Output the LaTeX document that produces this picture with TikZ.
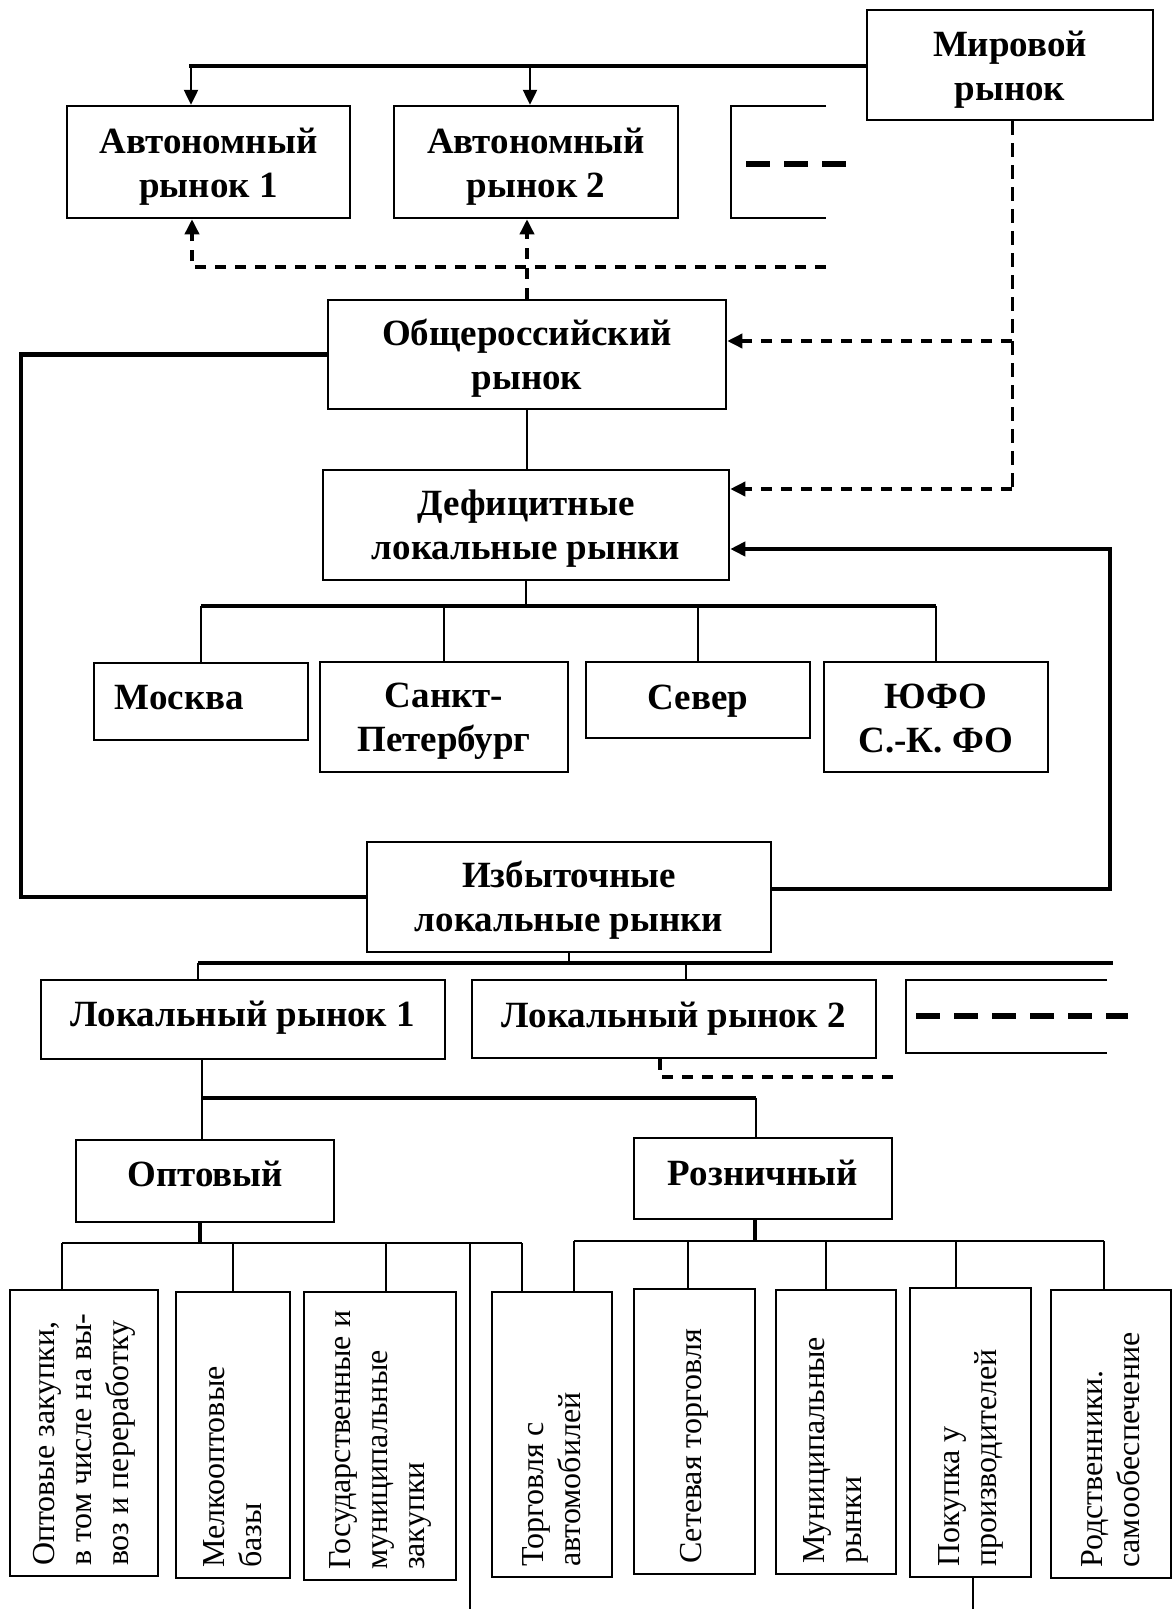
\documentclass[tikz,border=0pt]{standalone}
\usepackage{fontspec}
\setmainfont{Liberation Serif}
\usetikzlibrary{arrows.meta}
\begin{document}
\begin{tikzpicture}[x=1pt,y=-1pt,
  frame/.style={draw, line width=2.5pt, inner sep=0pt},
  lbl/.style={inner sep=0pt, align=center, font=\fontsize{37}{44}\selectfont\bfseries},
  vbox/.style={draw, line width=2.2pt, inner sep=0pt},
  vtxt/.style={rotate=90, anchor=west, align=left, inner sep=0pt, font=\fontsize{32}{37}\selectfont},
  ln/.style={line width=2.5pt},
  thk/.style={line width=4.5pt},
  thn/.style={line width=2pt},
  dsh/.style={line width=3.5pt, dash pattern=on 11pt off 9pt},
  dshv/.style={line width=3pt, dash pattern=on 14pt off 8pt},
  dots/.style={line width=6pt, dash pattern=on 24pt off 14pt},
  arr/.style={-{Triangle[length=15pt,width=14pt]}},
]
\useasboundingbox (0,0) rectangle (1174,1609);

% boxes
\node[frame, minimum width=286pt, minimum height=110pt] (MW) at (1010,65) {};
\node[frame, minimum width=283pt, minimum height=112pt] (A1) at (208.5,162) {};
\node[frame, minimum width=284pt, minimum height=112pt] (A2) at (536,162) {};
\draw[ln] (826,106) -- (731,106) -- (731,218) -- (826,218);
\draw[dots] (746,164) -- (854,164);

\node[frame, minimum width=398pt, minimum height=109pt] (OR) at (527,354.5) {};
\node[frame, minimum width=406pt, minimum height=110pt] (DF) at (526,525) {};

\node[frame, minimum width=214pt, minimum height=77pt] (MOS) at (201,701.5) {};
\node[frame, minimum width=248pt, minimum height=110pt] (SPB) at (444,717) {};
\node[frame, minimum width=224pt, minimum height=76pt] (SEV) at (698,700) {};
\node[frame, minimum width=224pt, minimum height=110pt] (YUF) at (936,717) {};

\node[frame, minimum width=404pt, minimum height=110pt] (IZ) at (569,897) {};

\node[frame, minimum width=404pt, minimum height=79pt] (L1) at (243,1019.5) {};
\node[frame, minimum width=404pt, minimum height=78pt] (L2) at (674,1019) {};
\draw[ln] (1107,980) -- (906,980) -- (906,1053) -- (1107,1053);
\draw[dots] (916,1016) -- (1128,1016);

\node[frame, minimum width=258pt, minimum height=82pt] (OPT) at (205,1181) {};
\node[frame, minimum width=258pt, minimum height=81pt] (ROZ) at (763,1178.5) {};

% labels
\node[lbl] (MWt) at ([yshift=-4.6pt]MW.center) {Мировой\\рынок};
\node[lbl] (A1t) at ([yshift=-5pt]A1.center) {Автономный\\рынок 1};
\node[lbl] (A2t) at ([yshift=-5pt]A2.center) {Автономный\\рынок 2};
\node[lbl] (ORt) at ([yshift=-4pt]OR.center) {Общероссийский\\рынок};
\node[lbl] (DFt) at ([yshift=-4pt]DF.center) {Дефицитные\\локальные рынки};
\node[lbl, anchor=west] (MOSt) at ([xshift=22pt,yshift=4pt]MOS.west) {Москва};
\node[lbl] (SPBt) at ([yshift=-4.6pt]SPB.center) {Санкт-\\Петербург};
\node[lbl] (SEVt) at ([yshift=-1pt]SEV.center) {Север};
\node[lbl] (YUFt) at ([yshift=-1.5pt]YUF.center) {ЮФО\\С.-К. ФО};
\node[lbl] (IZt) at ([yshift=-3.6pt]IZ.center) {Избыточные\\локальные рынки};
\node[lbl] (L1t) at ([yshift=2pt]L1.center) {Локальный рынок 1};
\node[lbl] (L2t) at (L2.center) {Локальный рынок 2};
\node[lbl] (OPTt) at ([yshift=7pt]OPT.center) {Оптовый};
\node[lbl] (ROZt) at ([yshift=6pt]ROZ.center) {Розничный};

% bottom boxes
\node[vbox, minimum width=148pt, minimum height=286pt] (B1) at (84,1433) {};
\node[vbox, minimum width=114pt, minimum height=286pt] (B2) at (233,1435) {};
\node[vbox, minimum width=152pt, minimum height=288pt] (B3) at (380,1436) {};
\node[vbox, minimum width=120pt, minimum height=285pt] (B4) at (552,1434.5) {};
\node[vbox, minimum width=121pt, minimum height=285pt] (B5) at (694.5,1431.5) {};
\node[vbox, minimum width=120pt, minimum height=284pt] (B6) at (836,1432) {};
\node[vbox, minimum width=121pt, minimum height=289pt] (B7) at (970.5,1432.5) {};
\node[vbox, minimum width=120pt, minimum height=288pt] (B8) at (1111,1434) {};

\node[vtxt] (B1t) at ([yshift=11pt]B1.south) {Оптовые закупки,\\в том числе на вы-\\воз и переработку};
\node[vtxt] (B2t) at ([yshift=11pt]B2.south) {Мелкооптовые\\базы};
\node[vtxt] (B3t) at ([yshift=11pt]B3.south) {Государственные и\\муниципальные\\закупки};
\node[vtxt] (B4t) at ([yshift=11pt]B4.south) {Торговля с\\автомобилей};
\node[vtxt] (B5t) at ([yshift=11pt]B5.south) {Сетевая торговля};
\node[vtxt] (B6t) at ([yshift=11pt]B6.south) {Муниципальные\\рынки};
\node[vtxt] (B7t) at ([yshift=11pt]B7.south) {Покупка у\\производителей};
\node[vtxt] (B8t) at ([yshift=11pt]B8.south) {Родственники.\\самообеспечение};

% connectors: world market to autonomous markets
\coordinate (t1) at (191,66);
\coordinate (t2) at (530,66);
\draw[thk] (MW.west |- t1) -- ([xshift=-2pt]t1);
\draw[ln,arr] (t1) -- (t1 |- A1.north);
\draw[ln,arr] (t2) -- (t2 |- A2.north);

% dashed from all-Russian market to autonomous markets
\coordinate (d1) at (826,267);
\coordinate (d2) at (192,267);
\draw[dsh,arr] (d1) -- (d2) -- (d2 |- A1.south);
\draw[dsh,arr] (OR.north) -- (OR.north |- A2.south);

% dashed from world market
\coordinate (m1) at (1012,341);
\coordinate (m2) at (1012,489);
\draw[dshv] (m2 |- MW.south) -- (m2);
\draw[dsh,arr] (m1) -- (m1 -| OR.east);
\draw[dsh,arr] (m2) -- (m2 -| DF.east);

\draw[ln] (OR.south) -- (OR.south |- DF.north);

% left loop
\coordinate (l1) at (21,600);
\draw[thk] (OR.west) -| (l1) |- (IZ.west);
% right loop
\coordinate (r1) at (1110,549);
\draw[thk,arr] ([yshift=8pt]IZ.east) -| (r1) -- (r1 -| DF.east);

% deficit markets bar
\coordinate (b1) at (526,606);
\draw[ln] (DF.south) -- (b1);
\draw[thk] (MOS.north |- b1) -- (YUF.north |- b1);
\draw[ln] (MOS.north |- b1) -- (MOS.north);
\draw[ln] (SPB.north |- b1) -- (SPB.north);
\draw[ln] (SEV.north |- b1) -- (SEV.north);
\draw[ln] (YUF.north |- b1) -- (YUF.north);

% surplus markets bar
\coordinate (c1) at (569,963);
\coordinate (c0) at (198,963);
\coordinate (c2) at (686,963);
\coordinate (c3) at (1113,963);
\draw[ln] (IZ.south) -- (c1);
\draw[thk] (c0) -- (c3);
\draw[ln] (c0) -- (c0 |- L1.north);
\draw[ln] (c2) -- (c2 |- L2.north);

% dashed under local market 2
\coordinate (e1) at (660,1077);
\coordinate (e2) at (898,1077);
\draw[dsh] (e1 |- L2.south) -- (e1) -- (e2);

% local market 1 to wholesale/retail
\coordinate (f1) at (202,1098);
\coordinate (f2) at (756,1098);
\draw[ln] (f1 |- L1.south) -- (f1 |- OPT.north);
\draw[thk] (f1) -- (f2);
\draw[ln] (f2) -- (f2 |- ROZ.north);

% wholesale bar
\coordinate (g0) at (62,1243);
\coordinate (g1) at (200,1243);
\coordinate (g2) at (233,1243);
\coordinate (g3) at (386,1243);
\coordinate (g4) at (470,1243);
\coordinate (g5) at (522,1243);
\coordinate (g6) at (470,1609);
\draw[thk] (g1 |- OPT.south) -- (g1);
\draw[thn] (g0) -- (g5);
\draw[thn] (g0) -- (g0 |- B1.north);
\draw[thn] (g2) -- (g2 |- B2.north);
\draw[thn] (g3) -- (g3 |- B3.north);
\draw[thn] (g4) -- (g6);
\draw[thn] (g5) -- (g5 |- B4.north);

% retail bar
\coordinate (h0) at (574,1241);
\coordinate (h1) at (755,1241);
\coordinate (h2) at (688,1241);
\coordinate (h3) at (826,1241);
\coordinate (h4) at (956,1241);
\coordinate (h5) at (1104,1241);
\draw[thk] (h1 |- ROZ.south) -- (h1);
\draw[thn] (h0) -- (h5);
\draw[thn] (h0) -- (h0 |- B4.north);
\draw[thn] (h2) -- (h2 |- B5.north);
\draw[thn] (h3) -- (h3 |- B6.north);
\draw[thn] (h4) -- (h4 |- B7.north);
\draw[thn] (h5) -- (h5 |- B8.north);

\coordinate (k1) at (973,1609);
\draw[thn] (k1 |- B7.south) -- (k1);
\end{tikzpicture}
\end{document}
